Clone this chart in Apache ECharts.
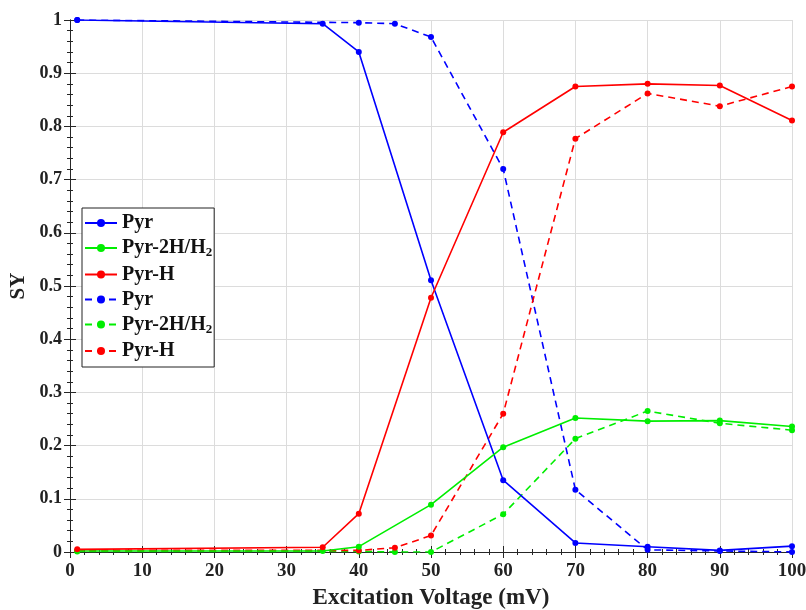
<!DOCTYPE html>
<html>
<head>
<meta charset="utf-8">
<script src="https://cdn.jsdelivr.net/npm/echarts@6/dist/echarts.min.js"></script>
<style>
html,body{margin:0;padding:0;background:#fff;}
#main{width:806px;height:610px;}
</style>
</head>
<body>
<div id="main"></div>
<script>
// x positions (mV)
var xSolid = [1, 35, 40, 50, 60, 70, 80, 90, 100];
var xDash = [1, 40, 45, 50, 60, 70, 80, 90, 100];

// solid lines
var pyrSolid = [1.0, 0.993, 0.94, 0.511, 0.135, 0.017, 0.01, 0.003, 0.011];
var pyr2hSolid = [0.002, 0.002, 0.01, 0.089, 0.197, 0.252, 0.246, 0.247, 0.236];
var pyrHSolid = [0.005, 0.009, 0.072, 0.478, 0.789, 0.875, 0.88, 0.877, 0.811];

// dashed lines
var pyrDash = [1.0, 0.995, 0.993, 0.968, 0.72, 0.117, 0.004, 0.002, 0.0];
var pyr2hDash = [0.001, 0.001, 0.0, 0.0, 0.071, 0.213, 0.265, 0.242, 0.229];
var pyrHDash = [0.003, 0.003, 0.008, 0.031, 0.26, 0.777, 0.862, 0.838, 0.875];

var font = 'Liberation Serif';

function pairs(xs, ys) {
	var out = [];
	for (var i = 0; i < xs.length; i++) out.push([xs[i], ys[i]]);
	return out;
}

function mkSeries(name, xs, ys, color, dashed) {
	return {
		name: name,
		type: 'line',
		data: pairs(xs, ys),
		symbol: 'circle',
		symbolSize: 6,
		color: color,
		lineStyle: { color: color, width: 1.6, type: dashed ? [7, 5] : 'solid' },
		itemStyle: { color: color },
		z: dashed ? 3 : 4
	};
}

var labels = {
	'Pyr': '{b|Pyr}',
	'Pyr-2H/H2': '{b|Pyr-2H/H}{s|2}',
	'Pyr-H': '{b|Pyr-H}',
	'Pyr (d)': '{b|Pyr}',
	'Pyr-2H/H2 (d)': '{b|Pyr-2H/H}{s|2}',
	'Pyr-H (d)': '{b|Pyr-H}'
};

// box around the plot: secondary axes carry the ticks on top and right
var tickLine = { color: '#262626' };

var dom = document.getElementById('main');
var myChart = echarts.init(dom);
var option = {
	backgroundColor: '#fff',
	animation: false,
	grid: { left: 70, right: 14, top: 20, bottom: 58, containLabel: false, outerBoundsMode: 'none' },
	legend: {
		orient: 'vertical',
		left: 82,
		top: 208,
		itemWidth: 32,
		itemHeight: 10,
		itemGap: 5,
		padding: [5, 2, 6, 2],
		borderColor: '#222',
		borderWidth: 1,
		backgroundColor: '#fff',
		data: ['Pyr', 'Pyr-2H/H2', 'Pyr-H', 'Pyr (d)', 'Pyr-2H/H2 (d)', 'Pyr-H (d)'],
		formatter: function(n) { return labels[n]; },
		textStyle: {
			rich: {
				b: { fontFamily: font, fontWeight: 'bold', fontSize: 20, color: '#111' },
				s: { fontFamily: font, fontWeight: 'bold', fontSize: 13, color: '#111', verticalAlign: 'bottom', padding: [10, 0, 0, 0] }
			}
		}
	},
	xAxis: [{
		type: 'value',
		min: 0, max: 100, interval: 10,
		name: 'Excitation Voltage (mV)',
		nameLocation: 'middle',
		nameGap: 35,
		nameTextStyle: { fontFamily: font, fontWeight: 'bold', fontSize: 23, color: '#222' },
		axisLine: { show: true, lineStyle: { color: '#262626', width: 1 } },
		axisTick: { show: true, inside: true, length: 6, lineStyle: tickLine },
		minorTick: { show: true, splitNumber: 5, length: 3, lineStyle: tickLine },
		axisLabel: { fontFamily: font, fontWeight: 'bold', fontSize: 19, color: '#222', margin: 10 },
		splitLine: { show: true, lineStyle: { color: '#dcdcdc', width: 1 } }
	}, {
		type: 'value', position: 'top',
		min: 0, max: 100, interval: 10,
		axisLine: { show: true, lineStyle: { color: '#262626', width: 1 } },
		axisTick: { show: true, inside: true, length: 6, lineStyle: tickLine },
		minorTick: { show: true, splitNumber: 5, length: 3, lineStyle: tickLine },
		axisLabel: { show: false },
		splitLine: { show: false }
	}],
	yAxis: [{
		type: 'value',
		min: 0, max: 1, interval: 0.1,
		name: 'SY',
		nameLocation: 'middle',
		nameGap: 40,
		nameTextStyle: { fontFamily: font, fontWeight: 'bold', fontSize: 21, color: '#222' },
		axisLine: { show: true, lineStyle: { color: '#262626', width: 1 } },
		axisTick: { show: true, inside: true, length: 6, lineStyle: tickLine },
		minorTick: { show: true, splitNumber: 5, length: 3, lineStyle: tickLine },
		axisLabel: {
			fontFamily: font, fontWeight: 'bold', fontSize: 18, color: '#222', margin: 8,
			formatter: function(v) { return String(Math.round(v * 10) / 10); }
		},
		splitLine: { show: true, lineStyle: { color: '#dcdcdc', width: 1 } }
	}, {
		type: 'value', position: 'right',
		min: 0, max: 1, interval: 0.1,
		axisLine: { show: true, lineStyle: { color: '#262626', width: 1 } },
		axisTick: { show: true, inside: true, length: 6, lineStyle: tickLine },
		minorTick: { show: true, splitNumber: 5, length: 3, lineStyle: tickLine },
		axisLabel: { show: false },
		splitLine: { show: false }
	}],
	series: [
		mkSeries('Pyr', xSolid, pyrSolid, '#0000ff', false),
		mkSeries('Pyr-2H/H2', xSolid, pyr2hSolid, '#00ee00', false),
		mkSeries('Pyr-H', xSolid, pyrHSolid, '#ff0000', false),
		mkSeries('Pyr (d)', xDash, pyrDash, '#0000ff', true),
		mkSeries('Pyr-2H/H2 (d)', xDash, pyr2hDash, '#00ee00', true),
		mkSeries('Pyr-H (d)', xDash, pyrHDash, '#ff0000', true)
	]
};
myChart.setOption(option, true);
</script>
</body>
</html>
